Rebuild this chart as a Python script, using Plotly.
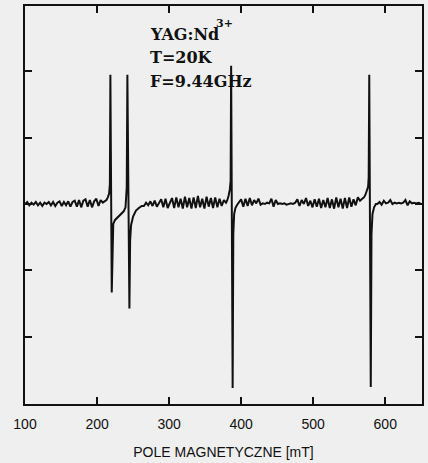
import numpy as np
import plotly.graph_objects as go

# ---- data (field in mT, signal in arbitrary units) ----
STEP = 3.0  # sampling step of the baseline segments [mT]

base_a_start = 100
base_a = [0.00, 0.03, -0.02, 0.02, -0.01, 0.03, -0.02, 0.02, -0.03, 0.02,
          0.00, 0.03, -0.02, 0.03, -0.03, 0.02, 0.04, -0.03, 0.03, -0.02,
          0.04, -0.04, 0.03, 0.05, -0.04, 0.06, -0.05, 0.05, 0.07, -0.04,
          0.06, -0.05, 0.04, 0.08, -0.03, 0.06, 0.02]

line12_field = [211, 213, 215, 216.8, 217.8, 218.5, 220.4, 221.3, 222.5, 225,
                228, 231, 234, 237, 239.5, 241.2, 242.1, 244.9, 245.9, 247.2,
                250, 254, 258, 262]
line12_value = [0.04, 0.06, 0.10, 0.16, 0.30, 1.95, -1.335, -0.50, -0.30, -0.24,
                -0.21, -0.18, -0.15, -0.11, -0.05, 0.25, 1.95, -1.575, -0.55, -0.32,
                -0.19, -0.10, -0.06, -0.03]

base_b_start = 265
base_b = [-0.03, 0.02, -0.02, 0.04, -0.03, 0.05, -0.04, 0.02, 0.07, -0.05,
          0.08, -0.06, 0.03, 0.09, -0.06, 0.10, -0.05, 0.08, -0.07, 0.11,
          -0.05, 0.09, -0.07, 0.10, -0.06, 0.12, -0.05, 0.08, -0.07, 0.11,
          -0.04, 0.09, -0.06, 0.10, -0.05, 0.08, -0.03, 0.06, 0.02]

line3_field = [380.5, 382.5, 384.3, 385.4, 386.1, 388.2, 389.1, 390.3, 392, 394.5]
line3_value = [0.05, 0.12, 0.22, 0.35, 2.085, -2.775, -0.45, -0.15, -0.06, -0.01]

base_c_start = 397
base_c = [0.02, 0.07, -0.04, 0.08, -0.03, 0.09, -0.02, 0.06, 0.01, 0.08,
          -0.01, 0.01, 0.00, 0.02, 0.01, 0.08, -0.04, 0.06, 0.00, 0.01,
          0.00, 0.01, -0.01, 0.00, 0.01, 0.00, 0.02, 0.07, -0.03, 0.06,
          0.00, 0.09, -0.03, 0.05, -0.05, 0.07, -0.04, 0.08, -0.06, 0.06,
          -0.05, 0.09, -0.06, 0.07, -0.07, 0.10, -0.05, 0.08, -0.07, 0.09,
          -0.06, 0.10, -0.04, 0.07, -0.02, 0.10, 0.05, 0.08]

line4_field = [570.5, 572.5, 574.5, 576.2, 577.0, 577.8, 579.9, 580.9, 582.3, 584.5, 587]
line4_value = [0.10, 0.14, 0.20, 0.26, 0.40, 1.95, -2.76, -0.45, -0.15, -0.05, 0.00]

base_d_start = 589
base_d = [0.00, 0.03, -0.01, 0.05, 0.01, 0.02, 0.06, 0.00, 0.02, 0.01,
          0.02, 0.01, 0.02, 0.06, -0.02, 0.04, 0.01, 0.02, 0.01, 0.02, 0.01]

x_ticks = [100, 200, 300, 400, 500, 600]
x_tick_labels = ["100", "200", "300", "400", "500", "600"]
labels = ["YAG:Nd", "T=20K", "F=9.44GHz"]
ion_charge = "3+"

# ---- assemble the spectrum ----
def seg(start, vals):
    return list(start + STEP * np.arange(len(vals))), list(vals)

parts = [seg(base_a_start, base_a), (line12_field, line12_value),
         seg(base_b_start, base_b), (line3_field, line3_value),
         seg(base_c_start, base_c), (line4_field, line4_value),
         seg(base_d_start, base_d)]
field, signal = [], []
for f, v in parts:
    field += list(f)
    signal += list(v)

fig = go.Figure()
fig.add_trace(go.Scatter(x=field, y=signal, mode="lines",
                         line=dict(color="#111111", width=2),
                         hoverinfo="skip", showlegend=False))

label_font = dict(family="DejaVu Serif", size=16, weight=700, color="#111111")
label_y = [2.56, 2.21, 1.85]
for txt, yy in zip(labels, label_y):
    fig.add_annotation(x=270.5, y=yy, xref="x", yref="y", text=txt,
                       showarrow=False, xanchor="left", yanchor="middle",
                       font=label_font)
fig.add_annotation(x=362, y=2.72, xref="x", yref="y", text=ion_charge,
                   showarrow=False, xanchor="left", yanchor="middle",
                   font=dict(family="DejaVu Serif", size=11, weight=700,
                             color="#111111"))

axis_common = dict(showline=True, linecolor="#111111", linewidth=2, mirror="ticks",
                   ticks="inside", ticklen=7, tickwidth=1.5, tickcolor="#111111",
                   showgrid=False, zeroline=False)

fig.update_layout(
    width=428, height=463,
    margin=dict(l=25, r=6, t=4, b=59),
    paper_bgcolor="#efefef", plot_bgcolor="#efefef",
    xaxis=dict(range=[100, 651], tickvals=x_ticks, ticktext=x_tick_labels,
               tickfont=dict(family="Liberation Sans", size=14, color="#111111"),
               ticklabelstandoff=6,
               title=dict(text="POLE MAGNETYCZNE [mT]", standoff=16,
                          font=dict(family="Liberation Sans", size=14, color="#111111")),
               **axis_common),
    yaxis=dict(range=[-3.015, 2.985], tickvals=[-3, -2, -1, 0, 1, 2, 3],
               showticklabels=False, **axis_common),
)

fig.write_html("out.html")
